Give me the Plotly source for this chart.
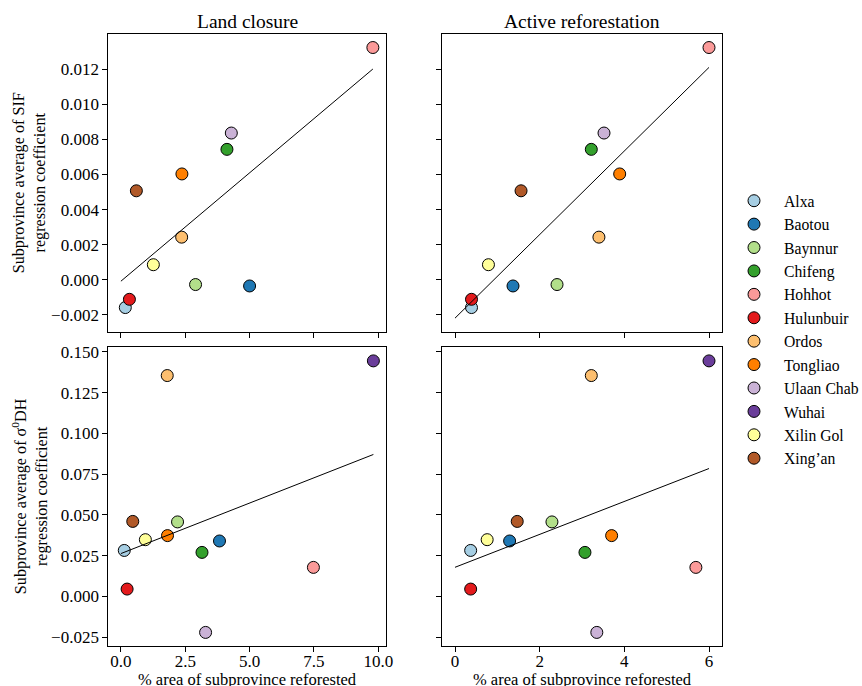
import numpy as np
import plotly.graph_objects as go

# ---------------- data ----------------
provinces = ["Alxa", "Baotou", "Baynnur", "Chifeng", "Hohhot", "Hulunbuir",
             "Ordos", "Tongliao", "Ulaan Chab", "Wuhai", "Xilin Gol", "Xing\u2019an"]
colors = ["#a6cee3", "#1f78b4", "#b2df8a", "#33a02c", "#fb9a99", "#e31a1c",
          "#fdbf6f", "#ff7f00", "#cab2d6", "#6a3d9a", "#ffff99", "#b15928"]

# SIF row (Wuhai absent -> None)
sif_closure_x = [0.17, 5.00, 2.90, 4.12, 9.79, 0.33, 2.36, 2.37, 4.29, None, 1.26, 0.60]
sif_active_x = [0.39, 1.37, 2.41, 3.22, 6.00, 0.39, 3.40, 3.89, 3.52, None, 0.79, 1.56]
sif_y = [-0.00158, -0.00035, -0.00027, 0.00743, 0.01323, -0.00111,
         0.00243, 0.00603, 0.00836, None, 0.00086, 0.00507]

# sigma0 DH row
dh_closure_x = [0.13, 3.83, 2.20, 3.15, 7.48, 0.24, 1.80, 1.81, 3.29, 9.81, 0.95, 0.46]
dh_active_x = [0.37, 1.29, 2.29, 3.07, 5.69, 0.37, 3.22, 3.70, 3.35, 6.00, 0.76, 1.47]
dh_y = [0.0282, 0.0340, 0.0457, 0.0270, 0.0178, 0.0045,
        0.1355, 0.0373, -0.0221, 0.1445, 0.0348, 0.0460]

col_titles = ["Land closure", "Active reforestation"]
row_labels = ["Subprovince average of SIF<br>regression coefficient",
              "Subprovince average of \u03c3<sup>0</sup>DH<br>regression coefficient"]
x_label = "% area of subprovince reforested"

# tick values
sif_ticks = [-0.002, 0.000, 0.002, 0.004, 0.006, 0.008, 0.010, 0.012]
dh_ticks = [-0.025, 0.000, 0.025, 0.050, 0.075, 0.100, 0.125, 0.150]
closure_ticks = [0.0, 2.5, 5.0, 7.5, 10.0]
active_ticks = [0, 2, 4, 6]

# ---------------- layout geometry (pixels) ----------------
W, H = 862, 686
col_px = [(108.3, 386.0), (442.3, 721.7)]
row_px = [(34.0, 331.7), (347.3, 646.0)]

FONT = "Liberation Serif, Times New Roman, serif"

fig = go.Figure()

panels = [  # (row, col, xs, ys)
    (0, 0, sif_closure_x, sif_y),
    (0, 1, sif_active_x, sif_y),
    (1, 0, dh_closure_x, dh_y),
    (1, 1, dh_active_x, dh_y),
]


def fit(xs, ys):
    pts = [(a, b) for a, b in zip(xs, ys) if a is not None and b is not None]
    xa = np.array([p[0] for p in pts])
    ya = np.array([p[1] for p in pts])
    k, b = np.polyfit(xa, ya, 1)
    lx = np.array([0.0, xa.max()])
    return xa, ya, lx, k * lx + b


fits = {}
for r, c, xs, ys in panels:
    fits[(r, c)] = fit(xs, ys)


def pad(lo, hi):
    d = (hi - lo) * 0.05
    return [lo - d, hi + d]


xrng = {}
for c in range(2):
    vals = []
    for r in range(2):
        xa, ya, lx, ly = fits[(r, c)]
        vals += list(xa) + list(lx)
    xrng[c] = pad(min(vals), max(vals))
yrng = {}
for r in range(2):
    vals = []
    for c in range(2):
        xa, ya, lx, ly = fits[(r, c)]
        vals += list(ya) + list(ly)
    yrng[r] = pad(min(vals), max(vals))

idx = 0
for r, c, xs, ys in panels:
    idx += 1
    ax = "" if idx == 1 else str(idx)
    for name, col, xv, yv in zip(provinces, colors, xs, ys):
        if xv is None or yv is None:
            continue
        fig.add_trace(go.Scatter(
            x=[xv], y=[yv], mode="markers", name=name,
            legendgroup=name, showlegend=(r == 1 and c == 0),
            marker=dict(size=12, color=col, line=dict(color="black", width=1)),
            xaxis="x" + ax, yaxis="y" + ax, cliponaxis=False))
    xa, ya, lx, ly = fits[(r, c)]
    fig.add_trace(go.Scatter(x=lx, y=ly, mode="lines", showlegend=False,
                             line=dict(color="black", width=1),
                             xaxis="x" + ax, yaxis="y" + ax, hoverinfo="skip"))

    x0, x1 = col_px[c]
    y0, y1 = row_px[r]
    common = dict(showline=True, linecolor="black", linewidth=1, mirror=True,
                  ticks="outside", ticklen=5, tickwidth=1, tickcolor="black",
                  showgrid=False, zeroline=False, automargin=False,
                  tickfont=dict(family=FONT, size=17, color="black"))
    xa_d = dict(common, domain=[x0 / W, x1 / W], range=xrng[c],
                anchor="y" + ax, showticklabels=(r == 1), tickmode="array",
                ticklabelstandoff=-5)
    if c == 0:
        xa_d.update(tickvals=closure_ticks, ticktext=[f"{v:.1f}" for v in closure_ticks])
    else:
        xa_d.update(tickvals=active_ticks, ticktext=[f"{v:d}" for v in active_ticks])
    ya_d = dict(common, domain=[1 - y1 / H, 1 - y0 / H], range=yrng[r],
                anchor="x" + ax, showticklabels=(c == 0), tickmode="array")
    tv = sif_ticks if r == 0 else dh_ticks
    ya_d.update(tickvals=tv,
                ticktext=[(f"{v:.3f}" if v >= 0 else "\u2212" + f"{-v:.3f}") for v in tv])
    fig.layout["xaxis" + ax] = xa_d
    fig.layout["yaxis" + ax] = ya_d

annotations = []
for c in range(2):
    x0, x1 = col_px[c]
    annotations.append(dict(text=col_titles[c], x=(x0 + x1) / 2 / W, y=1 - 21.5 / H,
                            xref="paper", yref="paper", showarrow=False,
                            xanchor="center", yanchor="middle",
                            font=dict(family=FONT, size=19.5, color="black")))
    annotations.append(dict(text=x_label, x=(x0 + x1) / 2 / W, y=1 - 679 / H,
                            xref="paper", yref="paper", showarrow=False,
                            xanchor="center", yanchor="middle",
                            font=dict(family=FONT, size=16.5, color="black")))
for r in range(2):
    y0, y1 = row_px[r]
    annotations.append(dict(text=row_labels[r], x=29.5 / W, y=1 - (y0 + y1) / 2 / H,
                            xref="paper", yref="paper", showarrow=False,
                            textangle=-90, xanchor="center", yanchor="middle",
                            font=dict(family=FONT, size=16.2, color="black")))

fig.update_layout(
    width=W, height=H,
    margin=dict(l=0, r=0, t=0, b=0, autoexpand=False),
    paper_bgcolor="white", plot_bgcolor="white",
    annotations=annotations,
    showlegend=True,
    legend=dict(x=724 / W, y=1 - 184 / H, xanchor="left", yanchor="top",
                font=dict(family=FONT, size=15.7, color="black"),
                itemwidth=50, bgcolor="rgba(0,0,0,0)", borderwidth=0,
                tracegroupgap=0),
)

fig.write_html("out.html",
               config={"displayModeBar": False},
               post_script="document.body.style.margin='0';"
                           "document.body.style.overflow='hidden';")
